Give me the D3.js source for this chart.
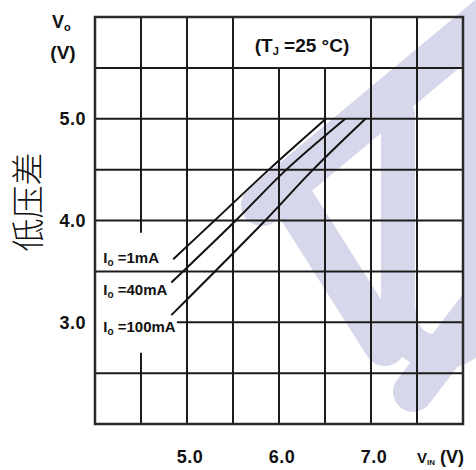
<!DOCTYPE html>
<html><head><meta charset="utf-8">
<script src="https://cdn.jsdelivr.net/npm/d3@7"></script>
<style>html,body{margin:0;padding:0;background:#fff;} svg{display:block;}</style>
</head><body>
<script>
// ---- data ----
const gridX = [4.0, 4.5, 5.0, 5.5, 6.0, 6.5, 7.0, 7.5, 8.0];
const gridY = [2.0, 2.5, 3.0, 3.5, 4.0, 4.5, 5.0, 5.5, 6.0];
const xTickLabels = [5.0, 6.0, 7.0];
const yTickLabels = [3.0, 4.0, 5.0];
const seriesNames = ["1mA", "40mA", "100mA"];
const vin1   = [4.85, 5.30, 5.89, 6.51];
const vo1    = [3.62, 4.00, 4.50, 5.00];
const vin40  = [4.83, 5.53, 6.08, 6.72];
const vo40   = [3.39, 4.00, 4.50, 5.00];
const vin100 = [4.83, 5.85, 6.37, 6.94];
const vo100  = [3.07, 4.00, 4.50, 5.00];
const labelVo = [3.58, 3.265, 2.90];
const labelVin = 4.09;
const tempLabel = "=25 °C)";

// ---- layout ----
const W = 476, H = 470;
const x = d3.scaleLinear().domain([4, 8]).range([95, 463]);
const y = d3.scaleLinear().domain([2, 6]).range([424, 17]);

const svg = d3.select("body").append("svg").attr("width", W).attr("height", H);

// watermark (decorative)
const wm = svg.append("g").attr("fill", "none").attr("stroke", "#d7d7eb")
  .attr("stroke-linecap", "round").attr("stroke-linejoin", "round");
wm.append("path").attr("d", "M262,205 L490,15").attr("stroke-width", 42);
wm.append("path").attr("d", "M290,195 L385,345").attr("stroke-width", 42);
wm.append("path").attr("d", "M398,115 L398,300 Q398,352 440,352 Q480,352 480,300 L480,60").attr("stroke-width", 34);
wm.append("path").attr("d", "M413,392 L495,285").attr("stroke-width", 40);

// grid with gaps (where annotation labels sit)
const vGaps = new Map([[4.5, [[2.70, 3.88]]], [6.0, [[5.5, 6.0]]], [6.5, [[5.5, 6.0]]]]);
const hGaps = new Map([[3.0, [[4.0, 4.89]]]]);
function segments(full, gaps) {
  let segs = [full.slice()];
  (gaps || []).forEach(([g0, g1]) => {
    const out = [];
    segs.forEach(([a, b]) => {
      if (g1 <= a || g0 >= b) { out.push([a, b]); return; }
      if (g0 > a) out.push([a, g0]);
      if (g1 < b) out.push([g1, b]);
    });
    segs = out;
  });
  return segs;
}
const grid = svg.append("g").attr("stroke", "#1c1c1c").attr("stroke-width", 2);
gridX.slice(1, -1).forEach(v => {
  segments([2, 6], vGaps.get(v)).forEach(([a, b]) => {
    grid.append("line").attr("x1", x(v)).attr("x2", x(v)).attr("y1", y(a)).attr("y2", y(b));
  });
});
gridY.slice(1, -1).forEach(v => {
  segments([4, 8], hGaps.get(v)).forEach(([a, b]) => {
    grid.append("line").attr("x1", x(a)).attr("x2", x(b)).attr("y1", y(v)).attr("y2", y(v));
  });
});
svg.append("rect").attr("x", x(4)).attr("y", y(6)).attr("width", x(8) - x(4)).attr("height", y(2) - y(6))
  .attr("fill", "none").attr("stroke", "#2a2a2a").attr("stroke-width", 2.5);

// series
const series = [
  { name: seriesNames[0], vin: vin1, vo: vo1 },
  { name: seriesNames[1], vin: vin40, vo: vo40 },
  { name: seriesNames[2], vin: vin100, vo: vo100 }
];
const line = d3.line().x(d => x(d[0])).y(d => y(d[1])).curve(d3.curveCatmullRom);
svg.append("g").selectAll("path").data(series).join("path")
  .attr("d", s => line(s.vin.map((v, i) => [v, s.vo[i]])))
  .attr("fill", "none").attr("stroke", "#111").attr("stroke-width", 2);

// series labels
const FONT = "'Liberation Sans', Arial, sans-serif";
series.forEach((s, i) => {
  const t = svg.append("text").attr("x", x(labelVin)).attr("y", y(labelVo[i]))
    .attr("font-family", FONT).attr("font-weight", "bold").attr("font-size", 15).attr("fill", "#111");
  t.append("tspan").text("I");
  t.append("tspan").attr("font-size", 10).attr("dy", 3).text("o");
  t.append("tspan").attr("dy", -3).text(" =" + s.name);
});

// temperature label
const tt = svg.append("text").attr("x", (x(5.5) + x(7.0)) / 2).attr("y", 52).attr("text-anchor", "middle")
  .attr("font-family", FONT).attr("font-weight", "bold").attr("font-size", 19).attr("fill", "#111");
tt.append("tspan").text("(T");
tt.append("tspan").attr("font-size", 11).attr("dy", 3).text("J");
tt.append("tspan").attr("dy", -3).text(" " + tempLabel);

// tick labels
svg.append("g").selectAll("text").data(xTickLabels).join("text")
  .attr("x", d => x(d) + 3).attr("y", 463).attr("text-anchor", "middle")
  .attr("font-family", FONT).attr("font-weight", "bold").attr("font-size", 18).attr("letter-spacing", 0.5).attr("fill", "#111")
  .text(d => d.toFixed(1));
svg.append("g").selectAll("text").data(yTickLabels).join("text")
  .attr("x", 86).attr("y", d => y(d)).attr("dy", "0.36em").attr("text-anchor", "end")
  .attr("font-family", FONT).attr("font-weight", "bold").attr("font-size", 18).attr("letter-spacing", 0.5).attr("fill", "#111")
  .text(d => d.toFixed(1));

// axis titles
const xt = svg.append("text").attr("x", 417).attr("y", 463)
  .attr("font-family", FONT).attr("font-weight", "bold").attr("font-size", 15).attr("fill", "#111");
xt.append("tspan").text("V");
xt.append("tspan").attr("font-size", 8).attr("dy", 2).text("IN");
xt.append("tspan").attr("dy", -2).attr("font-size", 18).text(" (V)");

const yt = svg.append("text").attr("x", 52).attr("y", 28)
  .attr("font-family", FONT).attr("font-weight", "bold").attr("font-size", 18).attr("fill", "#111");
yt.append("tspan").text("V");
yt.append("tspan").attr("font-size", 11).attr("dy", 3).text("o");
svg.append("text").attr("x", 63).attr("y", 59).attr("text-anchor", "middle")
  .attr("font-family", FONT).attr("font-weight", "bold").attr("font-size", 19).attr("fill", "#111").text("(V)");

svg.append("text").attr("transform", "translate(40,202) rotate(-90)").attr("text-anchor", "middle")
  .attr("font-family", "'Noto Sans CJK SC', sans-serif").attr("font-weight", 300).attr("font-size", 33).attr("fill", "#111")
  .text("低压差");
</script>
</body></html>
